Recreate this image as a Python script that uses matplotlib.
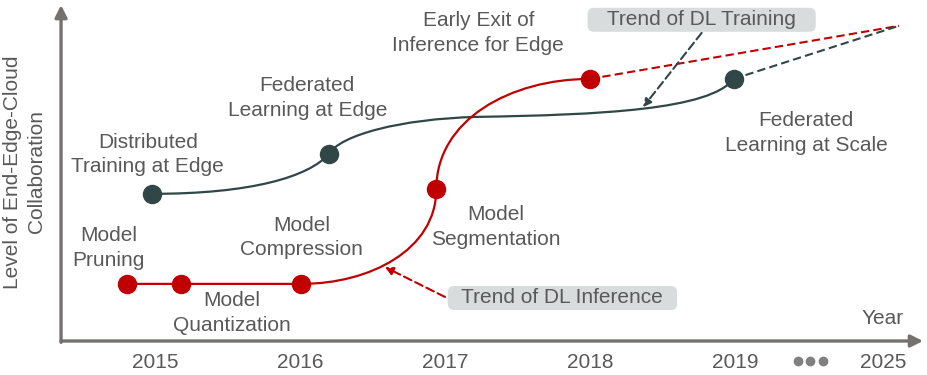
import matplotlib
matplotlib.use("Agg")
import matplotlib.pyplot as plt
from matplotlib.path import Path
from matplotlib.patches import PathPatch, FancyArrowPatch

plt.rcParams['font.family'] = ['Liberation Sans', 'DejaVu Sans']

# ---- data (x = year position, y = level of collaboration) ----
tick_pos = [2015, 2016, 2017, 2018, 2019, 2020.02]
tick_labels = ["2015", "2016", "2017", "2018", "2019", "2025"]
gap_pos = 2019.52   # the "..." between 2019 and 2025

# inference trend (red): milestones
inf_x = [2014.81, 2015.18, 2016.01, 2016.94, 2018.0]
inf_y = [17.0, 17.0, 17.0, 45.2, 78.0]
# inference curve: anchors and bezier handles
inf_path_x = [2014.81, 2016.01, 2016.48, 2016.94, 2016.94, 2016.94, 2017.45, 2018.0]
inf_path_y = [17.0, 17.0, 17.0, 27.1, 45.2, 65.8, 78.0, 78.0]
inf_codes = [Path.MOVETO, Path.LINETO] + [Path.CURVE4] * 6

# training trend (dark): milestones
trn_x = [2014.98, 2016.2, 2018.99]
trn_y = [43.8, 55.7, 78.0]
trn_path_x = [2014.98, 2015.66, 2016.06, 2016.2, 2016.28, 2016.69, 2017.22,
              2018.07, 2018.83, 2018.99]
trn_path_y = [43.8, 43.8, 48.8, 55.7, 61.3, 66.1, 66.7, 67.3, 68.8, 78.0]
trn_codes = [Path.MOVETO] + [Path.CURVE4] * 9

future_x, future_y = 2020.13, 93.8

inf_labels = [
    ("Model\nPruning", 2014.68, 27.7),
    ("Model\nQuantization", 2015.53, 8.3),
    ("Model\nCompression", 2016.01, 30.7),
    ("Model\nSegmentation", 2017.35, 33.9),
    ("Early Exit of\nInference for Edge", 2017.23, 91.7),
]
trn_labels = [
    ("Distributed\nTraining at Edge", 2014.95, 55.4),
    ("Federated\nLearning at Edge", 2016.05, 72.3),
    ("Federated\nLearning at Scale", 2019.49, 61.9),
]

RED = "#c00000"
DARK = "#314747"
TXT = "#595959"
AXC = "#767171"
BOX = "#d9dcdc"

fig = plt.figure(figsize=(9.28, 3.75), dpi=100)
ax = fig.add_axes([0, 0, 1, 1])
ax.set_xlim(2013.931, 2020.331)
ax.set_ylim(-10.12, 101.49)
ax.axis('off')

# axes with arrows
x0, y0 = 2014.352, 0
ax.add_patch(FancyArrowPatch((x0, y0), (2020.297, y0), arrowstyle='-|>',
                             mutation_scale=18, color=AXC, lw=2.4,
                             shrinkA=0, shrinkB=0))
ax.add_patch(FancyArrowPatch((x0, y0 - 0.4), (x0, 100), arrowstyle='-|>',
                             mutation_scale=18, color=AXC, lw=2.4,
                             shrinkA=0, shrinkB=0))

for p, lab in zip(tick_pos, tick_labels):
    ax.text(p, -6.3, lab, ha='center', va='center', fontsize=15, color=TXT)
ax.plot([gap_pos - 0.087, gap_pos, gap_pos + 0.087], [-6.0] * 3, 'o',
        color='#808080', ms=6)
ax.text(2020.02, 6.8, "Year", ha='center', va='center', fontsize=15, color=TXT)
ax.text(2014.10, 50.3, "Level of End-Edge-Cloud\nCollaboration", rotation=90,
        ha='center', va='center', fontsize=15, color=TXT, linespacing=1.3)

# dashed extrapolation
ax.plot([inf_x[-1], future_x], [inf_y[-1], future_y], color=RED, lw=1.5,
        ls=(0, (4, 2)))
ax.plot([trn_x[-1], future_x], [trn_y[-1], future_y], color=DARK, lw=1.5,
        ls=(0, (4, 2)))

# trend curves
ax.add_patch(PathPatch(Path(list(zip(trn_path_x, trn_path_y)), trn_codes),
                       fill=False, edgecolor=DARK, lw=1.6))
ax.add_patch(PathPatch(Path(list(zip(inf_path_x, inf_path_y)), inf_codes),
                       fill=False, edgecolor=RED, lw=1.6))

ax.plot(trn_x, trn_y, 'o', color=DARK, ms=13, zorder=5)
ax.plot(inf_x, inf_y, 'o', color=RED, ms=13, zorder=5)

for txt, x, y in inf_labels + trn_labels:
    ax.text(x, y, txt, ha='center', va='center', fontsize=15, color=TXT,
            linespacing=1.35)

# trend boxes + dashed pointers
box = dict(boxstyle='round,pad=0.12,rounding_size=0.3', fc=BOX, ec='none')
ax.text(2018.77, 95.6, "   Trend of DL Training   ", ha='center', va='center',
        fontsize=15, color=TXT, bbox=box)
ax.text(2017.81, 12.8, "  Trend of DL Inference  ", ha='center', va='center',
        fontsize=15, color=TXT, bbox=box)

ax.annotate("", xy=(2018.366, 69.6), xytext=(2018.77, 91.7),
            arrowprops=dict(arrowstyle='-|>', color=DARK, lw=1.5,
                            ls=(0, (4, 2)), mutation_scale=12,
                            shrinkA=0, shrinkB=0))
ax.annotate("", xy=(2016.586, 22.0), xytext=(2017.0, 13.1),
            arrowprops=dict(arrowstyle='-|>', color=RED, lw=1.5,
                            ls=(0, (4, 2)), mutation_scale=12,
                            shrinkA=0, shrinkB=0))

fig.savefig("out.png", dpi=100)
